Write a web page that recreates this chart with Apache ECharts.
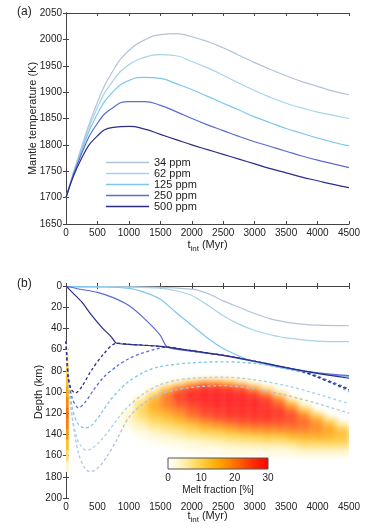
<!DOCTYPE html>
<html>
<head>
  <meta charset="UTF-8">
  <title>Mantle temperature and melt zone</title>
  <script src="https://cdn.jsdelivr.net/npm/echarts@6/dist/echarts.min.js"></script>
  <style>
    body { margin: 0; padding: 0; background: #fff; }
    #main { width: 374px; height: 529px; }
  </style>
</head>
<body>
<div id="main"></div>
<script>
  // ---- panel (a): mantle temperature (K) ----
  var timeA = [0, 250, 500, 750, 1000, 1250, 1500, 1750, 2000, 2250, 2500, 2750, 3000, 3250, 3500, 3750, 4000, 4250, 4500];
  var temp34 = [1700, 1797, 1881, 1941, 1979, 1999, 2009, 2011, 2005, 1996, 1984, 1970, 1956, 1943, 1931, 1920, 1911, 1902, 1895];
  var temp62 = [1700, 1794, 1871, 1922, 1952, 1966, 1971, 1969, 1958, 1946, 1932, 1917, 1903, 1890, 1879, 1870, 1862, 1856, 1850];
  var temp125 = [1700, 1790, 1859, 1901, 1922, 1928, 1926, 1916, 1905, 1892, 1879, 1866, 1853, 1842, 1831, 1822, 1813, 1805, 1798];
  var temp250 = [1700, 1784, 1841, 1871, 1882, 1882, 1875, 1863, 1850, 1838, 1827, 1816, 1806, 1797, 1788, 1779, 1771, 1764, 1757];
  var temp500 = [1700, 1775, 1817, 1833, 1835, 1830, 1820, 1810, 1800, 1791, 1782, 1773, 1764, 1755, 1747, 1739, 1732, 1725, 1719];

  var caseNames = ['34 ppm', '62 ppm', '125 ppm', '250 ppm', '500 ppm'];
  var caseColors = ['#b3c3da', '#a6d3ea', '#7cc6ef', '#5b6bd0', '#2d2d88'];

  // ---- panel (b): lid depth (solid) and base depth (dashed), [t, km] ----
  var lid34 = [[0,0.5],[500,0.6],[1000,0.8],[1500,1.3],[2000,3],[2250,7],[2500,14],[2750,20],[3000,26],[3250,31],[3500,34],[3750,36],[4000,37],[4500,37.5]];
  var lid62 = [[0,0.5],[1000,1],[1500,2],[1750,4.5],[2000,9],[2250,18],[2500,28],[2750,36],[3000,42],[3250,46],[3500,49],[4000,52],[4500,52.5]];
  var lid125 = [[0,0.5],[500,0.8],[1000,2.2],[1250,6],[1500,12.5],[1750,25],[2000,37],[2250,49],[2500,59],[2750,66],[3000,71.5],[3500,78],[4000,82.5],[4500,85.5]];
  var lid250 = [[0,0],[200,2.8],[500,6],[750,11],[1000,18.5],[1250,31],[1500,46.5],[1610,57.5],[2000,61.5],[2500,65.5],[3000,71],[3500,77],[4000,82],[4500,84.5]];
  var lid500 = [[0,0],[100,6],[250,15],[400,27],[570,39],[720,48],[805,54],[1000,55],[1500,57],[2000,61],[2500,65.5],[3000,71],[3500,77],[4000,82.5],[4500,87]];

  var base34 = [[0,52],[50,95],[100,125],[200,158],[300,172],[370,175],[450,174],[550,169],[650,161],[800,146],[1000,124],[1250,110],[1500,102],[1750,98],[2000,95.5],[2500,94],[3000,97],[3500,103],[4000,111],[4500,120]];
  var base62 = [[0,52],[40,90],[90,120],[170,143],[250,152],[330,155],[420,153],[550,146],[700,135],[850,123],[1000,113],[1250,101],[1500,93],[1750,89],[2000,87],[2500,86],[3000,88.5],[3500,94],[4000,102],[4500,111]];
  var base125 = [[0,52],[40,88],[100,115],[180,129],[300,134],[400,132],[550,121],[700,108],[850,98],[1000,90],[1250,81],[1500,76],[2000,72.5],[2500,71.5],[3000,73],[3500,78],[4000,86],[4500,100]];
  var base250 = [[0,52],[40,85],[100,106],[200,115],[300,110],[450,97],[600,86],[800,76],[1000,68.5],[1200,63.5],[1400,60],[1610,57.5],[2000,61.5],[2500,65.5],[3000,71],[3500,77],[3800,81],[4000,85],[4250,91],[4500,97]];
  var base500 = [[0,52],[30,85],[80,97],[150,101],[250,95],[400,80],[600,64],[805,54],[1000,55],[1500,57],[2000,61],[2500,65.5],[3000,71],[3500,77],[3800,81.5],[4000,86],[4250,92],[4500,98]];

  // melt fraction [%] on a coarse grid (rows = depth bands, columns = time bands)
  var meltTimeEdges = [900,1100,1300,1500,1700,1900,2100,2300,2500,2700,2900,3100,3300,3500,3700,3900,4100,4300,4500];
  var meltDepthEdges = [85,90,95,100,105,110,115,120,125,130,135,140,145,150,155,160];
  var meltRows = [
    [0,0,0,0,0,0,1,1,0,0,0,0,0,0,0,0,0,0],
    [0,0,0,1,6,12,18,17,13,8,2,0,0,0,0,0,0,0],
    [0,0,1,10,20,26,29,29,27,24,16,6,0,0,0,0,0,0],
    [0,0,8,19,26,29,30,30,30,29,26,19,7,0,0,0,0,0],
    [0,5,14,21,26,29,30,30,30,30,29,26,18,4,0,0,0,0],
    [0,9,16,20,24,27,29,30,30,30,30,28,24,14,2,0,0,0],
    [1,10,15,18,21,24,27,28,29,29,29,28,26,21,10,0,0,0],
    [4,9,13,15,18,22,25,27,28,29,29,29,28,25,19,9,0,0],
    [4,7,10,12,15,18,21,23,25,26,27,27,26,25,22,17,8,0],
    [2,5,8,9,11,13,16,18,20,22,23,23,23,23,22,19,15,7],
    [0,3,5,7,8,10,12,13,15,17,18,19,19,20,20,19,17,13],
    [0,1,3,4,6,7,8,9,10,11,12,13,13,15,16,16,15,13],
    [0,0,1,2,3,4,5,6,7,8,8,9,9,10,12,12,12,12],
    [0,0,0,0,1,2,3,3,4,4,5,5,5,6,8,8,8,8],
    [0,0,0,0,0,0,1,1,2,2,2,2,2,2,3,3,3,3]
  ];
  // thin melt strip at the very start
  var stripTimeEdges = [0, 35];
  var stripDepthEdges = [55,65,75,85,95,105,115,125,135,145,155,165,175];
  var stripValues = [2,5,9,12,15,18,20,19,16,12,8,3];

  var meltColors = ['#ffffff', '#fff0b0', '#ffd040', '#ffa800', '#ff7000', '#ff3000', '#ff0000'];
  var meltRange = [0, 30];

  // build cells [t0, t1, d0, d1, value]
  var meltCells = [];
  meltRows.forEach(function (row, i) {
    row.forEach(function (v, j) {
      if (v > 0) meltCells.push([meltTimeEdges[j], meltTimeEdges[j + 1], meltDepthEdges[i], meltDepthEdges[i + 1], v]);
    });
  });
  var stripCells = stripValues.map(function (v, i) {
    return [stripTimeEdges[0], stripTimeEdges[1], stripDepthEdges[i], stripDepthEdges[i + 1], v];
  });

  var font = 'Liberation Sans';
  var axisColor = '#444';
  var plainNum = function (v) { return String(v); };

  function xAxisBottom(gridIndex, gap) {
    return {
      type: 'value', gridIndex: gridIndex, min: 0, max: 4500, interval: 500,
      axisLine: { lineStyle: { color: axisColor } },
      axisTick: { inside: true, length: 3, lineStyle: { color: axisColor } },
      axisLabel: { color: '#222', fontSize: 10, fontFamily: font, margin: 4, formatter: plainNum },
      splitLine: { show: false },
      name: '{t|t}{s|int}{t| (Myr)}', nameLocation: 'middle', nameGap: gap, nameMoveOverlap: false,
      nameTextStyle: {
        color: '#222', fontFamily: font,
        rich: {
          t: { fontSize: 11, fontFamily: font, color: '#222', lineHeight: 14, verticalAlign: 'top' },
          s: { fontSize: 8, fontFamily: font, color: '#222', lineHeight: 14, verticalAlign: 'bottom' }
        }
      }
    };
  }
  function xAxisTop(gridIndex) {
    return {
      type: 'value', gridIndex: gridIndex, position: 'top', min: 0, max: 4500, interval: 500,
      axisLine: { lineStyle: { color: axisColor } },
      axisTick: { inside: true, length: 3, lineStyle: { color: axisColor } },
      axisLabel: { show: false }, splitLine: { show: false }
    };
  }
  function yAxisRight(gridIndex, min, max, interval, inverse) {
    return {
      type: 'value', gridIndex: gridIndex, position: 'right', min: min, max: max, interval: interval, inverse: inverse,
      axisLine: { show: true, lineStyle: { color: axisColor } },
      axisTick: { show: true, inside: true, length: 3, lineStyle: { color: axisColor } },
      axisLabel: { show: false }, splitLine: { show: false }
    };
  }

  function lineSeries(name, data, color, xi, yi, dashed) {
    return {
      name: name, type: 'line', xAxisIndex: xi, yAxisIndex: yi,
      data: data, showSymbol: false, symbol: 'none', smooth: 0.3,
      lineStyle: { color: color, width: dashed ? 1.3 : 1.2, type: dashed ? [3, 2.5] : 'solid' },
      itemStyle: { color: color },
      z: dashed ? 4 : 5
    };
  }

  // melt cells: the soft version only shows the blurred shadow of each cell
  function meltSeries(name, cells, blur) {
    var shift = 3000;
    return {
      name: name, type: 'custom', xAxisIndex: 2, yAxisIndex: 2,
      data: cells, encode: { x: [0, 1], y: [2, 3] }, z: 1, clip: true, silent: true,
      renderItem: function (params, api) {
        var p0 = api.coord([api.value(0), api.value(2)]);
        var p1 = api.coord([api.value(1), api.value(3)]);
        var c = api.visual('color');
        var x = Math.min(p0[0], p1[0]), y = Math.min(p0[1], p1[1]);
        var w = Math.abs(p1[0] - p0[0]), h = Math.abs(p1[1] - p0[1]);
        if (!blur) {
          return { type: 'rect', shape: { x: x, y: y, width: w + 0.5, height: h + 0.5 }, style: { fill: c } };
        }
        return {
          type: 'rect',
          shape: { x: x - shift - 0.5, y: y - 0.5, width: w + 1, height: h + 1 },
          style: { fill: c, shadowBlur: blur, shadowColor: c, shadowOffsetX: shift }
        };
      }
    };
  }

  var series = [];
  // panel (a)
  [temp34, temp62, temp125, temp250, temp500].forEach(function (vals, k) {
    var pts = timeA.map(function (t, i) { return [t, vals[i]]; });
    var s = lineSeries(caseNames[k], pts, caseColors[k], 0, 0, false);
    s.smooth = 0.5;
    series.push(s);
  });

  // panel (b) melt field
  series.push(meltSeries('melt', meltCells, 6));
  series.push(meltSeries('melt strip', stripCells, 0));
  var meltIndex = [series.length - 2, series.length - 1];

  var lids = [lid34, lid62, lid125, lid250, lid500];
  var bases = [base34, base62, base125, base250, base500];
  bases.forEach(function (d, k) { series.push(lineSeries(caseNames[k] + ' base', d, caseColors[k], 2, 2, true)); });
  lids.forEach(function (d, k) { series.push(lineSeries(caseNames[k] + ' lid', d, caseColors[k], 2, 2, false)); });

  // colour bar
  series.push({
    name: 'colorbar', type: 'custom', xAxisIndex: 4, yAxisIndex: 4,
    data: [meltRange], z: 10, silent: true,
    renderItem: function (params, api) {
      var p0 = api.coord([api.value(0), 1]);
      var p1 = api.coord([api.value(1), 0]);
      var stops = meltColors.map(function (c, i) { return { offset: i / (meltColors.length - 1), color: c }; });
      return {
        type: 'rect',
        shape: { x: p0[0], y: p0[1], width: p1[0] - p0[0], height: p1[1] - p0[1] },
        style: { fill: { type: 'linear', x: 0, y: 0, x2: 1, y2: 0, colorStops: stops }, stroke: '#555', lineWidth: 1 }
      };
    }
  });

  var option = {
    backgroundColor: '#fff',
    animation: false,
    textStyle: { fontFamily: font },
    grid: [
      { left: 66, top: 13, width: 283, height: 211 },
      { left: 66, top: 286, width: 283, height: 212 },
      { left: 168, top: 458, width: 100, height: 11 }
    ],
    legend: {
      data: caseNames, orient: 'vertical', left: 106, top: 157,
      icon: 'rect', itemWidth: 43, itemHeight: 1.6, itemGap: 0, padding: 0,
      textStyle: { fontSize: 11, lineHeight: 10.6, color: '#222', fontFamily: font }
    },
    visualMap: {
      show: false, type: 'continuous', min: meltRange[0], max: meltRange[1],
      dimension: 4, seriesIndex: meltIndex, inRange: { color: meltColors }
    },
    xAxis: [
      xAxisBottom(0, 15),
      xAxisTop(0),
      xAxisBottom(1, 12),
      xAxisTop(1),
      {
        type: 'value', gridIndex: 2, min: meltRange[0], max: meltRange[1], interval: 10,
        axisLine: { show: false }, axisTick: { show: false }, splitLine: { show: false },
        axisLabel: { color: '#222', fontSize: 10, fontFamily: font, margin: 4 },
        name: 'Melt fraction [%]', nameLocation: 'middle', nameGap: 16,
        nameTextStyle: { color: '#222', fontSize: 10, fontFamily: font }
      }
    ],
    yAxis: [
      {
        type: 'value', gridIndex: 0, min: 1650, max: 2050, interval: 50,
        axisLine: { show: true, lineStyle: { color: axisColor } },
        axisTick: { show: true, inside: true, length: 3, lineStyle: { color: axisColor } },
        axisLabel: { color: '#222', fontSize: 10, fontFamily: font, margin: 4, formatter: plainNum },
        splitLine: { show: false },
        name: 'Mantle temperature (K)', nameLocation: 'middle', nameGap: 28, nameMoveOverlap: false,
        nameTextStyle: { color: '#222', fontSize: 11, fontFamily: font }
      },
      yAxisRight(0, 1650, 2050, 50, false),
      {
        type: 'value', gridIndex: 1, min: 0, max: 200, interval: 20, inverse: true,
        axisLine: { show: true, lineStyle: { color: axisColor } },
        axisTick: { show: true, inside: true, length: 3, lineStyle: { color: axisColor } },
        axisLabel: { color: '#222', fontSize: 10, fontFamily: font, margin: 4, formatter: plainNum },
        splitLine: { show: false },
        name: 'Depth (km)', nameLocation: 'middle', nameGap: 22, nameMoveOverlap: false,
        nameTextStyle: { color: '#222', fontSize: 11, fontFamily: font }
      },
      yAxisRight(1, 0, 200, 20, true),
      { type: 'value', gridIndex: 2, min: 0, max: 1, show: false }
    ],
    graphic: [
      { type: 'text', left: 17, top: 6, style: { text: '(a)', fontSize: 12, fontFamily: font, fill: '#222' } },
      { type: 'text', left: 17, top: 278, style: { text: '(b)', fontSize: 12, fontFamily: font, fill: '#222' } }
    ],
    series: series
  };

  var chart = echarts.init(document.getElementById('main'));
  chart.setOption(option);
</script>
</body>
</html>
